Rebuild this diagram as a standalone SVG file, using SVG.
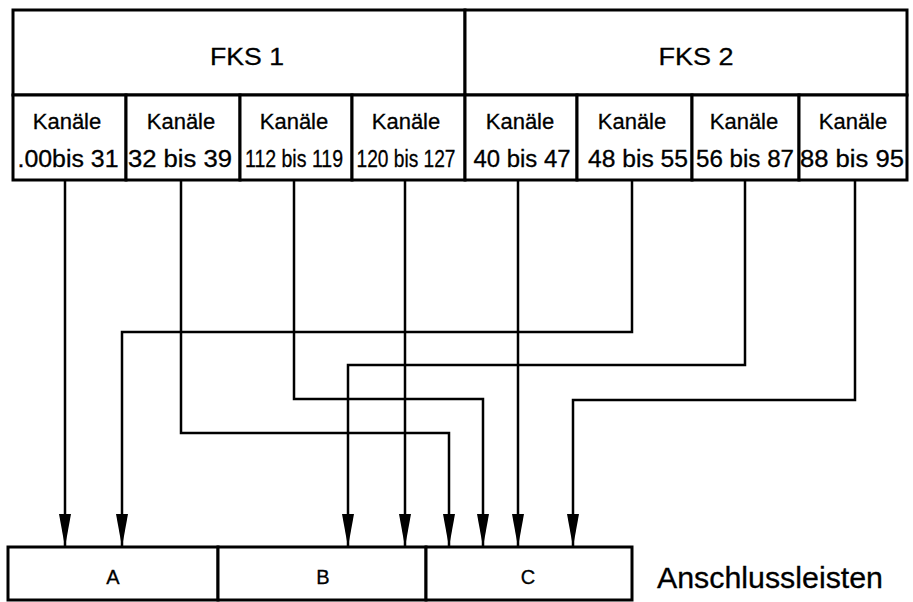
<svg xmlns="http://www.w3.org/2000/svg" width="913" height="602" viewBox="0 0 913 602">
<style>
  .box { fill: #fff; stroke: #000; stroke-width: 3; }
  .t { font-family: "Liberation Sans", Arial, sans-serif; fill: #000; text-anchor: middle; stroke: #000; stroke-width: 0.3; }
  .hdr { font-size: 24px; }
  .k { font-size: 22px; }
  .n { font-size: 23px; }
  .lbl { font-size: 20px; }
  .big { font-size: 29px; text-anchor: start; }
  .c { fill: none; stroke: #000; stroke-width: 2.5; marker-end: url(#arr); }
</style>
<defs>
  <marker id="arr" viewBox="0 0 33 12" refX="33" refY="6" markerWidth="33" markerHeight="12" markerUnits="userSpaceOnUse" orient="auto">
    <path d="M0,0 L33,6 L0,12 z" fill="#000"/>
  </marker>
</defs>
<rect width="913" height="602" fill="#fff"/>

<g id="fks1">
  <rect class="box" x="13" y="10" width="452" height="85"/>
  <text class="t hdr" x="247" y="65" textLength="74" lengthAdjust="spacingAndGlyphs">FKS 1</text>
</g>
<g id="fks2">
  <rect class="box" x="465" y="10" width="442" height="85"/>
  <text class="t hdr" x="696" y="65" textLength="75" lengthAdjust="spacingAndGlyphs">FKS 2</text>
</g>

<g id="ch00-31">
  <rect class="box" x="13" y="95" width="113" height="85"/>
  <text class="t k" x="67" y="129">Kanäle</text>
  <text class="t n" x="68" y="167" textLength="101" lengthAdjust="spacingAndGlyphs">.00bis 31</text>
</g>
<g id="ch32-39">
  <rect class="box" x="126" y="95" width="114" height="85"/>
  <text class="t k" x="181" y="129">Kanäle</text>
  <text class="t n" x="180" y="167" textLength="104" lengthAdjust="spacingAndGlyphs">32 bis 39</text>
</g>
<g id="ch112-119">
  <rect class="box" x="240" y="95" width="112" height="85"/>
  <text class="t k" x="294" y="129">Kanäle</text>
  <text class="t n" x="294" y="167" textLength="98" lengthAdjust="spacingAndGlyphs">112 bis 119</text>
</g>
<g id="ch120-127">
  <rect class="box" x="352" y="95" width="113" height="85"/>
  <text class="t k" x="406" y="129">Kanäle</text>
  <text class="t n" x="406" y="167" textLength="99" lengthAdjust="spacingAndGlyphs">120 bis 127</text>
</g>
<g id="ch40-47">
  <rect class="box" x="465" y="95" width="112" height="85"/>
  <text class="t k" x="520" y="129">Kanäle</text>
  <text class="t n" x="522" y="167" textLength="97" lengthAdjust="spacingAndGlyphs">40 bis 47</text>
</g>
<g id="ch48-55">
  <rect class="box" x="577" y="95" width="115" height="85"/>
  <text class="t k" x="632" y="129">Kanäle</text>
  <text class="t n" x="638" y="167" textLength="100" lengthAdjust="spacingAndGlyphs">48 bis 55</text>
</g>
<g id="ch56-87">
  <rect class="box" x="692" y="95" width="107" height="85"/>
  <text class="t k" x="744" y="129">Kanäle</text>
  <text class="t n" x="745" y="167" textLength="98" lengthAdjust="spacingAndGlyphs">56 bis 87</text>
</g>
<g id="ch88-95">
  <rect class="box" x="799" y="95" width="108" height="85"/>
  <text class="t k" x="853" y="129">Kanäle</text>
  <text class="t n" x="852" y="167" textLength="104" lengthAdjust="spacingAndGlyphs">88 bis 95</text>
</g>

<g id="connectors">
  <path class="c" d="M65,180 V547"/>
  <path class="c" d="M181,180 V433 H449 V547"/>
  <path class="c" d="M294,180 V399 H483 V547"/>
  <path class="c" d="M405,180 V547"/>
  <path class="c" d="M518,180 V547"/>
  <path class="c" d="M632,180 V332 H122 V547"/>
  <path class="c" d="M745,180 V365 H348 V547"/>
  <path class="c" d="M855,180 V400 H573 V547"/>
</g>

<g id="A">
  <rect class="box" x="8" y="547" width="210" height="53"/>
  <text class="t lbl" x="113" y="584">A</text>
</g>
<g id="B">
  <rect class="box" x="218" y="547" width="208" height="53"/>
  <text class="t lbl" x="323" y="584">B</text>
</g>
<g id="C">
  <rect class="box" x="426" y="547" width="206" height="53"/>
  <text class="t lbl" x="528" y="584">C</text>
</g>
<g id="anschlussleisten">
  <text class="t big" x="657" y="588" textLength="226" lengthAdjust="spacingAndGlyphs">Anschlussleisten</text>
</g>
</svg>
